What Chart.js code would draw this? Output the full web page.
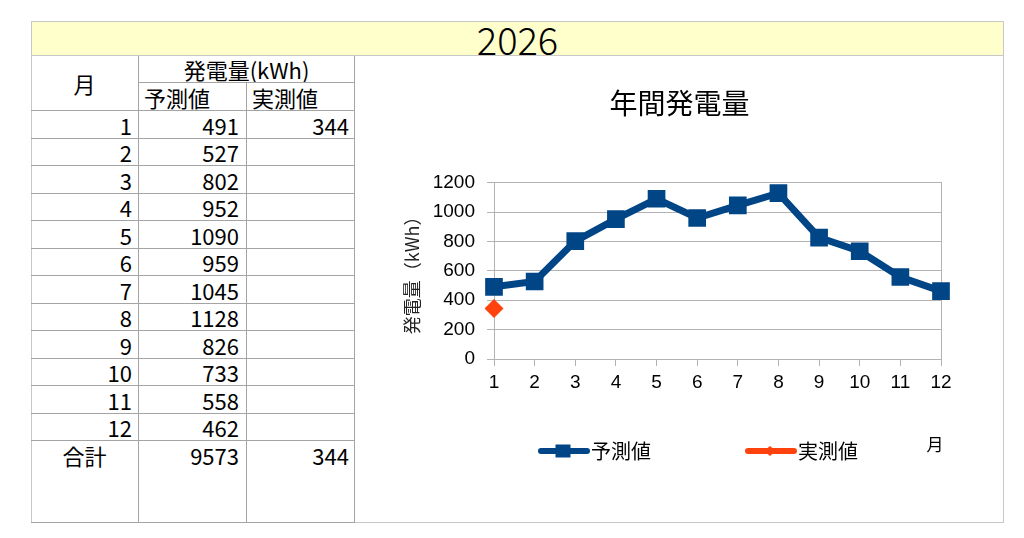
<!DOCTYPE html>
<html><head><meta charset="utf-8">
<script src="https://cdn.jsdelivr.net/npm/chart.js@4.4.0/dist/chart.umd.min.js"></script>
<style>
html,body{margin:0;padding:0;background:#fff;width:1024px;height:538px;overflow:hidden;font-family:"Noto Sans CJK JP",sans-serif;color:#000;}
#titlebar{position:absolute;left:31px;top:21px;width:973px;height:35px;box-sizing:border-box;background:#ffffcc;border:1px solid #c8c8c8;text-align:center;font-size:38px;font-weight:300;line-height:33px;}
#frame{position:absolute;left:31px;top:56px;width:973px;height:467px;box-sizing:border-box;border:1px solid #c8c8c8;border-top:none;}
.c{position:absolute;box-sizing:border-box;border-right:1px solid #a4a4a4;border-bottom:1px solid #a4a4a4;font-size:22px;white-space:nowrap;overflow:hidden;}
#chartbox{position:absolute;left:356px;top:57px;width:647px;height:465px;}
</style></head>
<body>
<div id="titlebar">2026</div>
<div id="frame"></div>
<div id="tbl"></div>
<div id="chartbox"><canvas id="chart"></canvas></div>
<script>
const yearLabel = "2026";
const chartTitle = "年間発電量";
const months = ["1","2","3","4","5","6","7","8","9","10","11","12"];
const forecast = [491, 527, 802, 952, 1090, 959, 1045, 1128, 826, 733, 558, 462];
const actual = [344, null, null, null, null, null, null, null, null, null, null, null];
const seriesNames = ["予測値", "実測値"];
const yTicks = [0, 200, 400, 600, 800, 1000, 1200];
const yAxisTitle = "発電量（kWh）";
const xAxisTitle = "月";
const headMonth = "月";
const headEnergy = "発電量(kWh)";
const totalLabel = "合計";

// ---- table ----
const tbl = document.getElementById('tbl');
const colX = [31, 139, 247, 355];
function cell(x1, x2, y1, y2, text, align, pad, lh) {
  const d = document.createElement('div');
  d.className = 'c';
  d.style.left = x1 + 'px'; d.style.top = y1 + 'px';
  d.style.width = (x2 - x1) + 'px'; d.style.height = (y2 - y1) + 'px';
  d.style.textAlign = align;
  d.style.lineHeight = (lh || (y2 - y1)) + 'px';
  if (align === 'right') d.style.paddingRight = pad + 'px';
  if (align === 'left') d.style.paddingLeft = pad + 'px';
  d.textContent = text;
  tbl.appendChild(d);
}
cell(colX[0], colX[1], 56, 111, headMonth, 'center', 0);
cell(colX[1], colX[3], 56, 83, headEnergy, 'center', 0);
cell(colX[1], colX[2], 83, 111, seriesNames[0], 'left', 5);
cell(colX[2], colX[3], 83, 111, seriesNames[1], 'left', 5);
const rowH = 27.5;
months.forEach((m, i) => {
  const y1 = Math.round(111 + i * rowH), y2 = Math.round(111 + (i + 1) * rowH);
  cell(colX[0], colX[1], y1, y2, m, 'right', 6);
  cell(colX[1], colX[2], y1, y2, forecast[i] == null ? '' : String(forecast[i]), 'right', 7);
  cell(colX[2], colX[3], y1, y2, actual[i] == null ? '' : String(actual[i]), 'right', 5);
});
const sum = a => a.reduce((s, v) => s + (v || 0), 0);
cell(colX[0], colX[1], 441, 523, totalLabel, 'center', 0, 28);
cell(colX[1], colX[2], 441, 523, String(sum(forecast)), 'right', 7, 28);
cell(colX[2], colX[3], 441, 523, String(sum(actual)), 'right', 5, 28);

// ---- chart ----
const BLUE = '#004586', ORANGE = '#ff420e', GRID = '#b3b3b3';
const JP = '"Noto Sans CJK JP", sans-serif';
const NUM = '"Liberation Sans", Arial, sans-serif';

const lineLegend = {
  id: 'lineLegend',
  afterDraw(chart) {
    const {ctx, chartArea} = chart;
    const y = chartArea.bottom + 92;
    let x = chartArea.left + 44;
    ctx.save();
    ctx.font = '20px ' + JP;
    ctx.textBaseline = 'middle';
    ctx.textAlign = 'left';
    chart.data.datasets.forEach(ds => {
      ctx.strokeStyle = ds.borderColor;
      ctx.lineWidth = 6;
      ctx.lineCap = 'round';
      ctx.beginPath(); ctx.moveTo(x + 3, y); ctx.lineTo(x + 49, y); ctx.stroke();
      ctx.fillStyle = ds.borderColor;
      if (ds.pointStyle === 'rect') {
        ctx.fillRect(x + 25 - 7.5, y - 6.5, 15, 13);
      } else {
        ctx.beginPath();
        ctx.moveTo(x + 25, y - 5); ctx.lineTo(x + 31, y); ctx.lineTo(x + 25, y + 5); ctx.lineTo(x + 19, y);
        ctx.closePath(); ctx.fill();
      }
      ctx.fillStyle = '#000';
      ctx.fillText(ds.label, x + 53, y);
      x += 53 + ctx.measureText(ds.label).width + 94;
    });
    ctx.font = '17px ' + JP;
    ctx.textAlign = 'center';
    ctx.fillText(xAxisTitle, chartArea.right - 6, y - 6);
    ctx.restore();
  }
};

new Chart(document.getElementById('chart'), {
  type: 'line',
  data: {
    labels: months,
    datasets: [
      {
        label: seriesNames[0], data: forecast,
        borderColor: BLUE, backgroundColor: BLUE, borderWidth: 7,
        pointStyle: 'rect', pointRadius: 12.5, pointBorderWidth: 0,
        pointBackgroundColor: BLUE, tension: 0, yAxisID: 'y'
      },
      {
        label: seriesNames[1], data: actual,
        borderColor: ORANGE, backgroundColor: ORANGE, borderWidth: 7,
        pointStyle: 'rectRot', pointRadius: 9.5, pointBorderWidth: 0,
        pointBackgroundColor: ORANGE, tension: 0, yAxisID: 'y'
      }
    ]
  },
  options: {
    responsive: true,
    maintainAspectRatio: false,
    animation: false,
    layout: { padding: 0 },
    plugins: {
      legend: { display: false },
      tooltip: { enabled: false },
      title: {
        display: true, text: chartTitle, color: '#000',
        font: { family: JP, size: 28, weight: 'normal', lineHeight: 1.2 },
        padding: { top: 30, bottom: 62 }
      }
    },
    scales: {
      x: {
        type: 'category', offset: false,
        grid: { display: true, drawOnChartArea: false, drawTicks: true, tickLength: 7, color: GRID },
        border: { display: true, color: GRID },
        ticks: { color: '#000', font: { family: NUM, size: 19 }, padding: 5, maxRotation: 0, autoSkip: false },
        afterFit: s => { s.height = 163; }
      },
      y: {
        position: 'left', min: 0, max: 1200,
        afterBuildTicks: s => { s.ticks = yTicks.map(v => ({ value: v })); },
        grid: { color: GRID, tickLength: 7, drawTicks: true },
        border: { display: true, color: GRID },
        ticks: { color: '#000', font: { family: NUM, size: 19 }, padding: 12, callback: v => String(v) },
        title: {
          display: true, text: yAxisTitle, color: '#222',
          font: { family: JP, size: 18, lineHeight: 1.2 },
          padding: { top: 45, bottom: 0 }
        },
        afterFit: s => { s.width = 138; }
      },
      y2: {
        position: 'right', display: true,
        ticks: { display: false },
        grid: { drawOnChartArea: false, drawTicks: false },
        border: { display: true, color: GRID },
        afterFit: s => { s.width = 62; }
      }
    }
  },
  plugins: [lineLegend]
});
</script>
</body></html>
